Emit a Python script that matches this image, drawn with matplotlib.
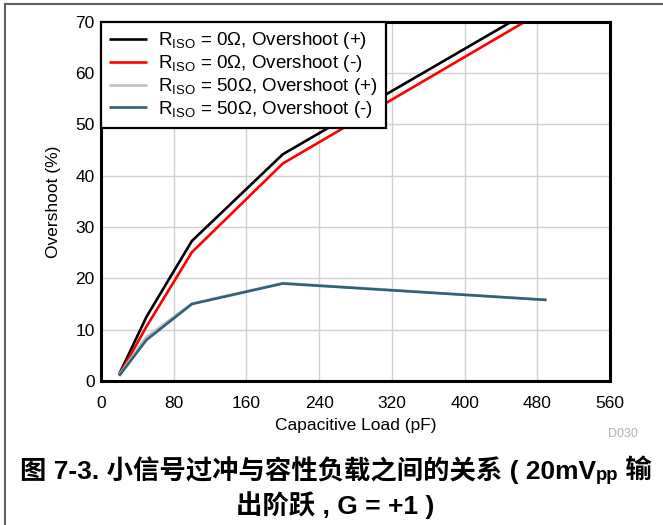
import numpy as np
import matplotlib.pyplot as plt
from matplotlib.lines import Line2D

# Configuración de fuentes
plt.rcParams['font.family'] = ['Liberation Sans', 'Noto Sans CJK SC', 'DejaVu Sans']
plt.rcParams['mathtext.fontset'] = 'custom'
plt.rcParams['mathtext.rm'] = 'Liberation Sans'
plt.rcParams['mathtext.it'] = 'Liberation Sans:italic'
plt.rcParams['mathtext.bf'] = 'Liberation Sans:bold'

# Datos
cap_load = [20, 50, 100, 200, 490]
os_0_pos = [1.3, 12.5, 27.3, 44.2, 74.0]
os_0_neg = [1.1, 10.6, 25.1, 42.4, 72.5]
os_50_pos = [1.2, 8.6, 15.1, 19.1, 15.8]
os_50_neg = [1.0, 8.0, 15.0, 19.0, 15.8]

labels = [r'R$_{\mathrm{ISO}}$ = 0Ω, Overshoot (+)',
          r'R$_{\mathrm{ISO}}$ = 0Ω, Overshoot (-)',
          r'R$_{\mathrm{ISO}}$ = 50Ω, Overshoot (+)',
          r'R$_{\mathrm{ISO}}$ = 50Ω, Overshoot (-)']
colors = ['black', '#ff0000', '#c0c0c0', '#2f6278']
x_ticks = [0, 80, 160, 240, 320, 400, 480, 560]
y_ticks = [0, 10, 20, 30, 40, 50, 60, 70]

fig = plt.figure(figsize=(6.63, 5.25), dpi=100)
ax = fig.add_axes([0.1523, 0.2743, 0.768, 0.684])

for ys, c, lab in zip([os_0_pos, os_0_neg, os_50_pos, os_50_neg], colors, labels):
    ax.plot(cap_load, ys, color=c, lw=1.9, label=lab, solid_capstyle='butt')

ax.set_xlim(0, 560)
ax.set_ylim(0, 70)
ax.set_xticks(x_ticks)
ax.set_yticks(y_ticks)
ax.tick_params(length=0, labelsize=12.5)
ax.tick_params(axis='x', pad=11)
ax.tick_params(axis='y', pad=4.5)
ax.grid(True, color='#d0d0d0', lw=1.0)
ax.set_axisbelow(True)
for s in ax.spines.values():
    s.set_linewidth(2.2)
ax.set_xlabel('Capacitive Load (pF)', fontsize=12.5, labelpad=5)
ax.set_ylabel('Overshoot (%)', fontsize=12.5, labelpad=10)

leg = ax.legend(loc='upper left', bbox_to_anchor=(0, 1), borderaxespad=0,
                fancybox=False, fontsize=13.5, handlelength=2.0,
                labelspacing=0.1, borderpad=0.45, handletextpad=0.6)
leg.get_frame().set_edgecolor('black')
leg.get_frame().set_linewidth(1.6)
leg.get_frame().set_alpha(1)

fig.text(0.962, 0.173, 'D030', color='#b0b0b0', fontsize=9, ha='right', va='center')

# Título en dos líneas; la primera se arma por partes por el subíndice
cap_font = ['Liberation Sans', 'Noto Sans CJK SC']
cap_size = 19
line1 = [('图 7-3. 小信号过冲与容性负载之间的关系 ( 20mV', cap_size, 0),
         ('pp', cap_size * 0.7, -6),
         (' 输', cap_size, 0)]
renderer = fig.canvas.get_renderer()
y1 = 1 - 468 / 525
pieces = []
for txt, sz, dy in line1:
    t = fig.text(0, y1 + dy / 525, txt, fontsize=sz, fontweight='bold', family=cap_font,
                 ha='left', va='center_baseline')
    pieces.append(t)
widths = [p.get_window_extent(renderer).width for p in pieces]
x0 = (672 - sum(widths)) / 2
for p, w in zip(pieces, widths):
    p.set_x(x0 / 663)
    x0 += w
fig.text(0.505, 1 - 503 / 525, '出阶跃 , G = +1 )', fontsize=cap_size, fontweight='bold',
         family=cap_font, ha='center', va='center_baseline')

# Borde de la figura
fig.add_artist(Line2D([0.007, 0.007], [0, 0.993], color='#606060', lw=1.5, transform=fig.transFigure))
fig.add_artist(Line2D([0.007, 1], [0.993, 0.993], color='#606060', lw=1.5, transform=fig.transFigure))

fig.savefig('out.png', dpi=100)
